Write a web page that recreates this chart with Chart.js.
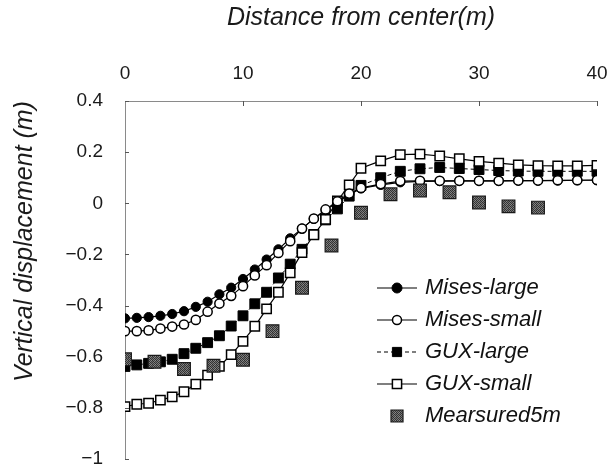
<!DOCTYPE html>
<html>
<head>
<meta charset="utf-8">
<title>Vertical displacement</title>
<script src="https://cdn.jsdelivr.net/npm/chart.js"></script>
<style>
  html, body { margin:0; padding:0; background:#fff; }
  #wrap { width:608px; height:472px; }
</style>
</head>
<body>
<div id="wrap"><canvas id="chart" width="608" height="472"></canvas></div>
<script>
// distance from center (m) for the model curves
const modelX = [0, 1, 2, 3, 4, 5, 6, 7, 8, 9, 10, 11, 12, 13, 14, 15, 16, 17, 18, 19, 20,
  21.67, 23.33, 25, 26.67, 28.33, 30, 31.67, 33.33, 35, 36.67, 38.33, 40];

const misesLarge = [-0.450, -0.448, -0.445, -0.440, -0.433, -0.422, -0.405, -0.385, -0.356, -0.330,
  -0.296, -0.259, -0.220, -0.180, -0.137, -0.099, -0.061, -0.027, 0.004, 0.033, 0.058,
  0.072, 0.082, 0.086, 0.087, 0.088, 0.088, 0.088, 0.089, 0.089, 0.089, 0.090, 0.090];

const misesSmall = [-0.500, -0.500, -0.497, -0.490, -0.482, -0.474, -0.456, -0.424, -0.392, -0.362,
  -0.324, -0.282, -0.242, -0.194, -0.148, -0.099, -0.060, -0.024, 0.008, 0.038, 0.060,
  0.075, 0.087, 0.088, 0.088, 0.088, 0.088, 0.088, 0.089, 0.089, 0.090, 0.090, 0.091];

const guxLarge = [-0.638, -0.632, -0.626, -0.620, -0.610, -0.588, -0.567, -0.545, -0.518, -0.480,
  -0.440, -0.393, -0.348, -0.292, -0.238, -0.180, -0.122, -0.065, -0.022, 0.028, 0.070,
  0.100, 0.125, 0.135, 0.140, 0.136, 0.132, 0.128, 0.126, 0.125, 0.125, 0.125, 0.125];

const guxSmall = [-0.795, -0.786, -0.782, -0.770, -0.757, -0.737, -0.707, -0.672, -0.638, -0.592,
  -0.540, -0.481, -0.413, -0.348, -0.272, -0.193, -0.123, -0.063, 0.009, 0.072, 0.137,
  0.166, 0.190, 0.192, 0.185, 0.174, 0.164, 0.157, 0.150, 0.147, 0.146, 0.146, 0.148];

// measured settlement, every 2.5 m
const measuredX = [0, 2.5, 5, 7.5, 10, 12.5, 15, 17.5, 20, 22.5, 25, 27.5, 30, 32.5, 35];
const measuredY = [-0.610, -0.620, -0.648, -0.635, -0.612, -0.500, -0.330, -0.165, -0.037,
  0.035, 0.050, 0.043, 0.003, -0.012, -0.017];

const xTicks = [0, 10, 20, 30, 40];
const yTicks = [0.4, 0.2, 0, -0.2, -0.4, -0.6, -0.8, -1];

const FONT = "'Liberation Sans', Arial, sans-serif";
Chart.defaults.font.family = FONT;
Chart.defaults.color = '#1a1a1a';

// grainy gray fill for the measured squares
function grainPattern() {
  const c = document.createElement('canvas');
  c.width = 4; c.height = 4;
  const g = c.getContext('2d');
  const shades = ['#2a2a2a', '#7a7a7a', '#3a3a3a', '#8c8c8c',
                  '#6a6a6a', '#303030', '#858585', '#3c3c3c',
                  '#353535', '#808080', '#2e2e2e', '#707070',
                  '#787878', '#383838', '#7e7e7e', '#323232'];
  shades.forEach((s, i) => { g.fillStyle = s; g.fillRect(i % 4, Math.floor(i / 4), 1, 1); });
  return g.createPattern(c, 'repeat');
}

const pts = (xs, ys) => xs.map((x, i) => ({ x: x, y: ys[i] }));

const datasets = [
  { label: 'Mises-large', data: pts(modelX, misesLarge), showLine: true, order: 2,
    borderColor: '#000', borderWidth: 1.2, pointStyle: 'circle', pointRadius: 4.6,
    pointBackgroundColor: '#000', pointBorderColor: '#000', pointBorderWidth: 1, legendRadius: 5 },
  { label: 'Mises-small', data: pts(modelX, misesSmall), showLine: true, order: 1,
    borderColor: '#000', borderWidth: 1.2, pointStyle: 'circle', pointRadius: 4.6,
    pointBackgroundColor: '#fff', pointBorderColor: '#000', pointBorderWidth: 1.5, legendRadius: 4.5 },
  { label: 'GUX-large', data: pts(modelX, guxLarge), showLine: true, order: 4,
    borderColor: '#000', borderWidth: 1, borderDash: [4, 3], pointStyle: 'rect', pointRadius: 7,
    pointBackgroundColor: '#000', pointBorderColor: '#000', pointBorderWidth: 1, legendRadius: 6.5 },
  { label: 'GUX-small', data: pts(modelX, guxSmall), showLine: true, order: 3,
    borderColor: '#000', borderWidth: 1.2, pointStyle: 'rect', pointRadius: 6.6,
    pointBackgroundColor: '#fff', pointBorderColor: '#000', pointBorderWidth: 1.5, legendRadius: 6.5 },
  { label: 'Mearsured5m', data: pts(measuredX, measuredY), showLine: false, order: 0,
    pointStyle: 'rect', pointRadius: 9, pointBackgroundColor: grainPattern(),
    pointBorderColor: '#1a1a1a', pointBorderWidth: 1.2, legendRadius: 8.5 }
];

// small inward tick marks on both axes
const innerTicks = {
  id: 'innerTicks',
  afterDraw(chart) {
    const { ctx, scales: { x, y }, chartArea: a } = chart;
    ctx.save();
    ctx.strokeStyle = '#555';
    ctx.lineWidth = 1;
    xTicks.slice(1).forEach(v => {
      const px = Math.round(x.getPixelForValue(v)) + 0.5;
      ctx.beginPath(); ctx.moveTo(px, a.top); ctx.lineTo(px, a.top + 5); ctx.stroke();
    });
    yTicks.forEach(v => {
      const py = Math.round(y.getPixelForValue(v)) + 0.5;
      ctx.beginPath(); ctx.moveTo(a.left, py); ctx.lineTo(a.left + 4, py); ctx.stroke();
    });
    ctx.restore();
  }
};

// legend with line + marker samples, placed inside the plot
const sideLegend = {
  id: 'sideLegend',
  afterDraw(chart) {
    const ctx = chart.ctx;
    ctx.save();
    chart.data.datasets.forEach((ds, i) => {
      const y = 288 + i * 32;
      if (ds.showLine) {
        ctx.strokeStyle = '#000';
        ctx.lineWidth = 1.2;
        ctx.setLineDash(ds.borderDash || []);
        ctx.beginPath(); ctx.moveTo(377, y); ctx.lineTo(417, y); ctx.stroke();
        ctx.setLineDash([]);
      }
      ctx.fillStyle = ds.pointBackgroundColor;
      ctx.strokeStyle = ds.pointBorderColor;
      ctx.lineWidth = ds.pointBorderWidth;
      Chart.helpers.drawPoint(ctx, { pointStyle: ds.pointStyle, radius: ds.legendRadius,
        rotation: 0, borderWidth: ds.pointBorderWidth }, 397, y);
      ctx.fillStyle = '#111';
      ctx.font = 'italic 22px ' + FONT;
      ctx.textAlign = 'left';
      ctx.textBaseline = 'middle';
      ctx.fillText(ds.label, 425, y);
    });
    ctx.restore();
  }
};

const fmt = v => {
  const r = Math.round(v * 10) / 10;
  return r < 0 ? '\u2212' + String(-r) : String(r);
};

new Chart(document.getElementById('chart'), {
  type: 'scatter',
  data: { datasets: datasets },
  options: {
    responsive: false,
    animation: false,
    devicePixelRatio: 1,
    layout: { padding: { left: 0, top: 0, right: 11, bottom: 13 } },
    plugins: { legend: { display: false }, tooltip: { enabled: false } },
    scales: {
      x: {
        type: 'linear', position: 'top', min: 0, max: 40,
        afterFit: s => { s.height = 101; s.paddingLeft = 0; s.paddingRight = 0; },
        afterBuildTicks: s => { s.ticks = xTicks.map(v => ({ value: v })); },
        ticks: { padding: 16, font: { size: 19 }, color: '#1a1a1a' },
        grid: { drawOnChartArea: false, drawTicks: false },
        border: { display: true, color: '#8a8a8a', width: 1, dash: [12, 3, 2, 3] },
        title: { display: true, text: 'Distance from center(m)', padding: { top: 3, bottom: 0 },
          font: { size: 25, style: 'italic' }, color: '#1a1a1a' }
      },
      y: {
        type: 'linear', position: 'left', min: -1, max: 0.4,
        afterFit: s => { s.width = 125; s.paddingTop = 0; s.paddingBottom = 0; },
        afterBuildTicks: s => { s.ticks = yTicks.map(v => ({ value: v })); },
        ticks: { padding: 22, font: { size: 19 }, color: '#1a1a1a', callback: v => fmt(v) },
        grid: { drawOnChartArea: false, drawTicks: false },
        border: { display: true, color: '#8a8a8a', width: 1, dash: [12, 3, 2, 3] },
        title: { display: true, text: 'Vertical displacement (m)', align: 'end',
          padding: { top: 10, bottom: 0 }, font: { size: 25, style: 'italic' }, color: '#1a1a1a' }
      }
    }
  },
  plugins: [innerTicks, sideLegend]
});
</script>
</body>
</html>
